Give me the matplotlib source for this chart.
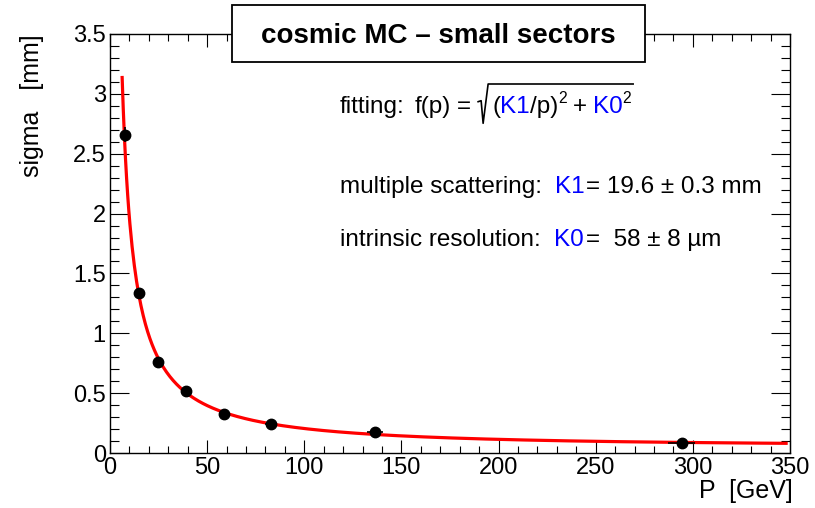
import numpy as np
import matplotlib
matplotlib.use("Agg")
import matplotlib.pyplot as plt
from matplotlib.lines import Line2D
from matplotlib.patches import Rectangle
from matplotlib.transforms import IdentityTransform
from matplotlib.ticker import MultipleLocator, FuncFormatter

plt.rcParams["font.family"] = ["Liberation Sans", "DejaVu Sans"]

# measured points
p_gev = [7.7, 15.1, 24.9, 38.9, 58.9, 82.9, 136.5, 294.2]
sigma_mm = [2.66, 1.334, 0.763, 0.52, 0.323, 0.245, 0.173, 0.086]
p_err = [1.0, 1.5, 2.0, 2.0, 3.0, 3.0, 4.0, 7.0]
sigma_err = [0.06, 0.03, 0.02, 0.01, 0.01, 0.01, 0.01, 0.005]

# fit result
K1 = 19.6      # mm
K0 = 0.058     # mm
fit_range = (6.25, 348.0)

W, H = 815, 508
fig = plt.figure(figsize=(W / 100, H / 100), dpi=100)
ax = fig.add_axes([110 / W, 55 / H, 680 / W, 419 / H])

# fitted function
pp = np.linspace(fit_range[0], fit_range[1], 600)
ax.plot(pp, np.sqrt((K1 / pp) ** 2 + K0 ** 2), color="#ff0000", lw=2.3, zorder=2)

ax.errorbar(p_gev, sigma_mm, xerr=p_err, yerr=sigma_err, fmt="o", color="black",
            ms=7.5, elinewidth=1.2, capsize=0, zorder=3)

ax.set_xlim(0, 350)
ax.set_ylim(0, 3.5)
ax.xaxis.set_major_locator(MultipleLocator(50))
ax.xaxis.set_minor_locator(MultipleLocator(10))
ax.yaxis.set_major_locator(MultipleLocator(0.5))
ax.yaxis.set_minor_locator(MultipleLocator(0.1))
ax.tick_params(axis="both", which="both", direction="in", top=True, right=True,
               width=0.8, labelsize=17)
ax.tick_params(axis="x", which="major", length=9.4, pad=3)
ax.tick_params(axis="x", which="minor", length=4.7)
ax.tick_params(axis="y", which="major", length=13.7, pad=3)
ax.tick_params(axis="y", which="minor", length=6.8)
ax.xaxis.set_major_formatter(FuncFormatter(lambda v, _: f"{v:g}"))
ax.yaxis.set_major_formatter(FuncFormatter(lambda v, _: f"{v:g}"))
for s in ax.spines.values():
    s.set_linewidth(1.0)

fig.text(32 / W, 1 - 34 / H, "sigma   [mm]", rotation=90, ha="center", va="top", fontsize=18)
fig.text(793 / W, 1 - 498 / H, "P  [GeV]", ha="right", va="baseline", fontsize=18)

# title box
fig.add_artist(Rectangle((232 / W, 1 - 62 / H), 413 / W, 57 / H, transform=fig.transFigure,
                         facecolor="white", edgecolor="black", lw=1.3, zorder=5))
fig.text(438.5 / W, 1 - 43 / H, "cosmic MC \u2013 small sectors", ha="center", va="baseline",
         fontsize=20, fontweight="bold", zorder=6)

renderer = fig.canvas.get_renderer()
ident = IdentityTransform()


def chain(x, y_top, pieces, size=17.5):
    """place text pieces one after another; y_top is the baseline measured from the top"""
    y = H - y_top
    for txt, color, gap, rise, scale in pieces:
        x += gap
        t = fig.text(x, y + rise, txt, transform=ident, color=color, fontsize=size * scale,
                     ha="left", va="baseline")
        x += t.get_window_extent(renderer).width
    return x


blue = "#0000ff"
x = chain(340, 112.7, [("fitting:", "black", 0, 0, 1), ("f(p)", "black", 10, 0, 1),
                       ("=", "black", 6, 0, 1)])
# radical sign
rad_x = x + 7
base = H - 112.7
x_end = chain(rad_x + 14, 112.7, [("(", "black", 0, 0, 1), ("K1", blue, 0, 0, 1),
                                  ("/p)", "black", 0, 0, 1), ("2", "black", 0, 10, 0.65),
                                  ("+", "black", 6, 0, 1), ("K0", blue, 6, 0, 1),
                                  ("2", "black", 0, 10, 0.65)])
fig.add_artist(Line2D([rad_x, rad_x + 3, rad_x + 5, rad_x + 10, rad_x + 13, x_end + 2],
                      [base + 11, base + 12, base - 10.6, base + 28.7, base + 28.7, base + 28.7],
                      transform=ident, color="black", lw=1.2))

chain(340, 193.3, [("multiple scattering:", "black", 0, 0, 1), ("K1", blue, 13, 0, 1),
                   ("= 19.6 \u00b1 0.3 mm", "black", 1, 0, 1)])
chain(340, 246.0, [("intrinsic resolution:", "black", 0, 0, 1), ("K0", blue, 13, 0, 1),
                   ("=  58 \u00b1 8 \u00b5m", "black", 3, 0, 1)])

fig.savefig("out.png", dpi=100)
